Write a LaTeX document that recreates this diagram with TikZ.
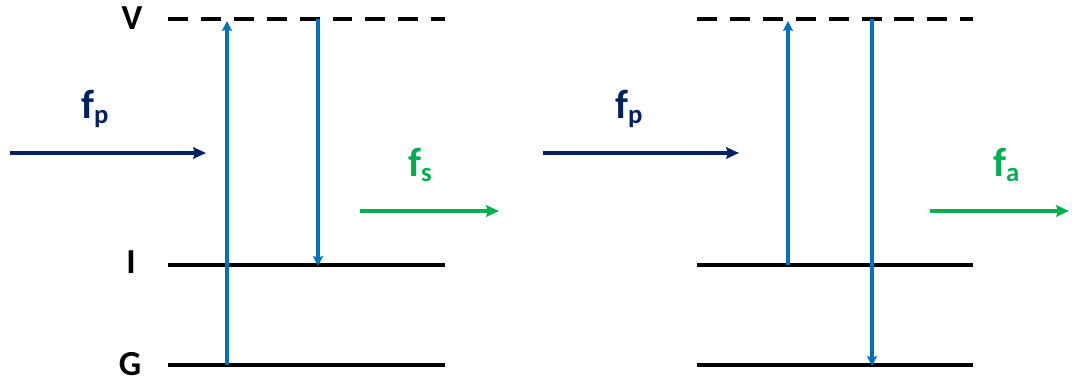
\documentclass[tikz,border=0pt]{standalone}
\usepackage{fontspec}
\setmainfont{Carlito}
\usetikzlibrary{arrows.meta}
\definecolor{navy}{HTML}{002060}
\definecolor{transblue}{HTML}{0070C0}
\definecolor{outgreen}{HTML}{00B050}
\newcommand{\freq}[2]{\textbf{f\raisebox{-0.3ex}{\fontsize{19}{19}\selectfont #2}}}
\begin{document}
\begin{tikzpicture}[x=0.025cm, y=-0.025cm, line cap=butt,
    level/.style={black, line width=3pt},
    virtual/.style={level, dash pattern=on 14.2pt off 9.2pt},
    transition/.style={transblue, line width=2.2pt, -{Stealth[length=7pt,width=7pt,inset=1pt]}},
    pump/.style={navy, line width=2.3pt, -{Stealth[length=9pt,width=8pt,inset=1pt]}},
    emit/.style={outgreen, line width=2.3pt, -{Stealth[length=9pt,width=8pt,inset=1pt]}},
    levellabel/.style={font=\fontsize{25}{25}\selectfont\bfseries, anchor=base, inner sep=0pt},
    freqlabel/.style={font=\fontsize{29}{29}\selectfont, anchor=base west, inner sep=0pt}]
    \useasboundingbox (0,0) rectangle (1072,383);

    % Livelli (Stokes, sinistra)
    \coordinate (sV1) at (168,19);  \coordinate (sV2) at (445,19);
    \coordinate (sI1) at (168,265); \coordinate (sI2) at (445,265);
    \coordinate (sG1) at (168,365); \coordinate (sG2) at (445,365);
    \draw[virtual] (sV1) -- (sV2);
    \draw[level] (sI1) -- (sI2);
    \draw[level] (sG1) -- (sG2);
    \node[levellabel] (lV) at (132,29) {V};
    \node[levellabel] (lI) at (131,273) {I};
    \node[levellabel] (lG) at (130,375) {G};

    % Transizioni
    \coordinate (sUpA) at (227,365); \coordinate (sUpB) at (227,21);
    \coordinate (sDnA) at (318,19);  \coordinate (sDnB) at (318,266);
    \draw[transition] (sUpA) -- (sUpB);
    \draw[transition] (sDnA) -- (sDnB);

    % Fotoni
    \coordinate (sPa) at (10,153);  \coordinate (sPb) at (206,153);
    \coordinate (sSa) at (360,211); \coordinate (sSb) at (499,211);
    \draw[pump] (sPa) -- (sPb);
    \draw[emit] (sSa) -- (sSb);
    \node[freqlabel, navy] (fp1) at (81,118) {\freq{f}{p}};
    \node[freqlabel, outgreen] (fs) at (408,176) {\freq{f}{s}};

    % Livelli (anti-Stokes, destra)
    \coordinate (aV1) at (697,19);  \coordinate (aV2) at (973,19);
    \coordinate (aI1) at (697,265); \coordinate (aI2) at (973,265);
    \coordinate (aG1) at (697,365); \coordinate (aG2) at (973,365);
    \draw[virtual] (aV1) -- (aV2);
    \draw[level] (aI1) -- (aI2);
    \draw[level] (aG1) -- (aG2);

    % Transizioni
    \coordinate (aUpA) at (788,265); \coordinate (aUpB) at (788,21);
    \coordinate (aDnA) at (872,19);  \coordinate (aDnB) at (872,366);
    \draw[transition] (aUpA) -- (aUpB);
    \draw[transition] (aDnA) -- (aDnB);

    % Fotoni
    \coordinate (aPa) at (543,153); \coordinate (aPb) at (739,153);
    \coordinate (aSa) at (930,211); \coordinate (aSb) at (1069,211);
    \draw[pump] (aPa) -- (aPb);
    \draw[emit] (aSa) -- (aSb);
    \node[freqlabel, navy] (fp2) at (615,118) {\freq{f}{p}};
    \node[freqlabel, outgreen] (fa) at (993,176) {\freq{f}{a}};
\end{tikzpicture}
\end{document}
